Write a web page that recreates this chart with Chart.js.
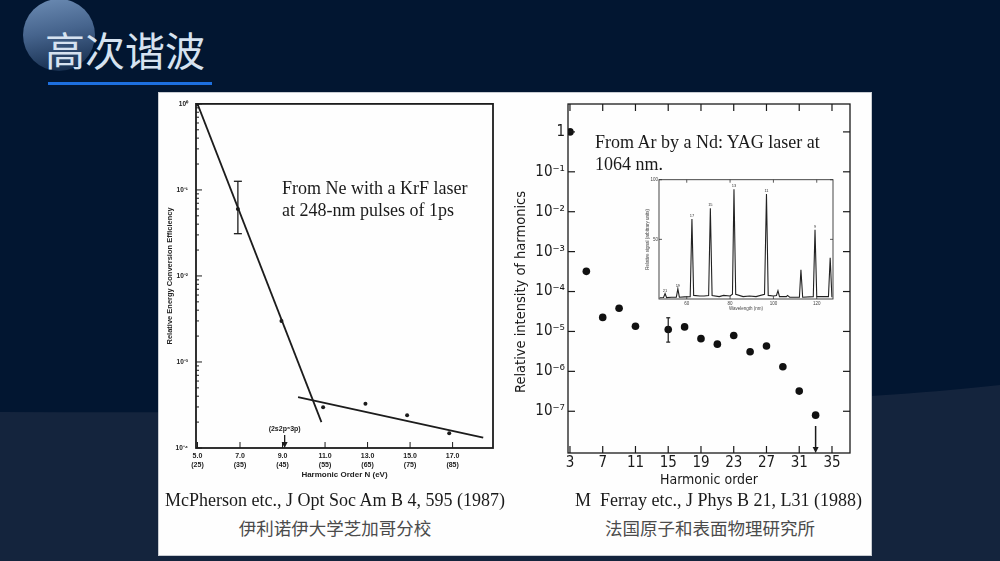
<!DOCTYPE html>
<html>
<head>
<meta charset="utf-8">
<script src="https://cdn.jsdelivr.net/npm/chart.js@4.4.1/dist/chart.umd.min.js"></script>
<style>
  html, body { margin: 0; padding: 0; }
  body { width: 1000px; height: 561px; overflow: hidden; background: #021631; position: relative; }
  #wave { position: absolute; left: 0; top: 0; }
  #badge { position: absolute; left: 23px; top: -1px; width: 72px; height: 72px; border-radius: 50%;
           background: linear-gradient(170deg, #6d8db5 0%, #46648d 45%, #102746 100%); }
  #title { position: absolute; left: 45px; top: 29px; font-family: "Noto Sans CJK SC"; font-size: 40px;
           line-height: 40px; color: #d6e2f0; white-space: nowrap; }
  #underline { position: absolute; left: 48px; top: 82px; width: 164px; height: 3px; background: #1d6fdf; }
  #panel { position: absolute; left: 158px; top: 92px; width: 714px; height: 464px; background: #fefefe;
           box-sizing: border-box; border: 1px solid #c8ccd2; }
  .box { position: absolute; }
  .note { position: absolute; font-family: "Liberation Serif", serif; font-size: 18px; line-height: 22px;
          color: #1a1a1a; white-space: pre; }
  .cn { position: absolute; font-family: "Noto Sans CJK SC", sans-serif; font-size: 17.5px; line-height: 22px;
        color: #4b4b4b; white-space: nowrap; text-align: center; }
  #rightYTitle { position: absolute; left: 420px; top: 284px; width: 200px; height: 18px; line-height: 18px;
                 text-align: center; transform: rotate(-90deg); transform-origin: 100px 9px;
                 font-family: "Liberation Sans Narrow", "DejaVu Sans Condensed", "Liberation Sans", sans-serif;
                 font-size: 14.5px; color: #1a1a1a; white-space: nowrap; }
</style>
</head>
<body>
<svg id="wave" width="1000" height="561"><path d="M0,412 C400,414 800,408 1000,385 L1000,561 L0,561 Z" fill="#14243d"/></svg>
<div id="badge"></div>
<div id="title">高次谐波</div>
<div id="underline"></div>
<div id="panel"></div>

<div class="box" style="left:158px; top:92px; width:345px; height:400px;"><canvas id="leftChart"></canvas></div>
<div class="box" style="left:505px; top:92px; width:357px; height:400px;"><canvas id="rightChart"></canvas></div>
<div class="box" style="left:645px; top:176px; width:192px; height:136px;"><canvas id="insetChart"></canvas></div>

<div id="rightYTitle">Relative intensity of harmonics</div>
<div class="note" style="left:282px; top:177px;">From Ne with a KrF laser
at 248-nm pulses of 1ps</div>
<div class="note" style="left:595px; top:131px;">From Ar by a Nd: YAG laser at
1064 nm.</div>
<div class="note" style="left:165px; top:489px;">McPherson etc., J Opt Soc Am B 4, 595 (1987)</div>
<div class="note" style="left:575px; top:489px;">M  Ferray etc., J Phys B 21, L31 (1988)</div>
<div class="cn" style="left:215px; width:240px; top:517px;">伊利诺伊大学芝加哥分校</div>
<div class="cn" style="left:590px; width:240px; top:517px;">法国原子和表面物理研究所</div>

<script>
// left plot: McPherson, Ne + KrF
const leftOrders = [5, 7, 9, 11, 13, 15, 17];
const leftOrderLabels = [['5.0', '(25)'], ['7.0', '(35)'], ['9.0', '(45)'], ['11.0', '(55)'], ['13.0', '(65)'], ['15.0', '(75)'], ['17.0', '(85)']];
const leftDecades = [1e-4, 1e-3, 1e-2, 1e-1, 1];
const leftDecadeLabels = ['10⁻⁴', '10⁻³', '10⁻²', '10⁻¹', '10⁰'];
const leftPointX = [5.0, 6.9, 8.95, 10.91, 12.9, 14.86, 16.84];
const leftPointY = [1.0, 0.060, 0.0030, 2.98e-4, 3.27e-4, 2.4e-4, 1.48e-4];
const leftErrX = [6.9];
const leftErrLo = [0.031];
const leftErrHi = [0.126];
const steepFitX = [5.0, 10.83];
const steepFitY = [1.0, 2.0e-4];
const flatFitX = [9.73, 18.44];
const flatFitY = [3.9e-4, 1.32e-4];
const leftMarkerX = 9.1;
const leftMarkerLabel = '(2s2p⁶3p)';

// right plot: Ferray, Ar + Nd:YAG
const rightOrders = [3, 7, 11, 15, 19, 23, 27, 31, 35];
const rightDecades = [1e-7, 1e-6, 1e-5, 1e-4, 1e-3, 1e-2, 1e-1, 1];
const rightDecadeLabels = ['10⁻⁷', '10⁻⁶', '10⁻⁵', '10⁻⁴', '10⁻³', '10⁻²', '10⁻¹', '1'];
const harmonicOrder = [3, 5, 7, 9, 11, 15, 17, 19, 21, 23, 25, 27, 29, 31, 33];
const harmonicIntensity = [1, 3.2e-4, 2.25e-5, 3.8e-5, 1.35e-5, 1.12e-5, 1.3e-5, 6.6e-6, 4.8e-6, 7.9e-6, 3.1e-6, 4.3e-6, 1.3e-6, 3.2e-7, 8.0e-8];
const rightErrX = [15];
const rightErrLo = [5.4e-6];
const rightErrHi = [2.2e-5];
const rightMarkerX = 33;

// inset: spectrum trace
const insetWavelength = [47.5, 49.3, 50.0, 50.7, 53, 55.2, 55.9, 56.6, 59, 61.6, 62.4, 63.2, 66, 68, 70.1, 70.9, 71.7, 75, 77, 80, 81.1, 81.8, 82.6, 86, 89, 92, 95.9, 96.8, 97.6, 100, 101.4, 102.1, 102.8, 106, 106.5, 107.5, 112, 112.7, 113.5, 118.4, 119.2, 120.0, 125.4, 126.2, 127.0];
const insetSignal = [1, 1.2, 4.5, 1.2, 1.5, 1.5, 8.5, 1.5, 1.8, 2, 67, 3, 2.5, 2.5, 3, 76, 3, 2, 3, 2.5, 4, 92, 4, 2, 2.5, 2, 4, 88, 3, 2.5, 3, 7, 2, 2, 3, 1.5, 1.5, 24.5, 1.5, 2, 58, 2, 2, 34.5, 1.5];
const peakOrder = ['21', '19', '17', '15', '13', '11', '9'];
const peakWavelength = [50.0, 55.9, 62.4, 70.9, 81.8, 96.8, 119.2];
const peakSignal = [4.5, 8.5, 67, 76, 92, 88, 58];
const insetXTicks = [60, 80, 100, 120];
const insetYTicks = [50, 100];

const sketch = {
  id: 'sketch',
  afterDatasetsDraw(chart, args, o) {
    const ctx = chart.ctx;
    const {left, right, top, bottom} = chart.chartArea;
    const xs = chart.scales.x, ys = chart.scales.y;
    const seg = (x1, y1, x2, y2) => { ctx.beginPath(); ctx.moveTo(x1, y1); ctx.lineTo(x2, y2); ctx.stroke(); };
    ctx.save();
    ctx.strokeStyle = o.color;
    ctx.fillStyle = o.color;
    ctx.lineWidth = o.frameWidth;
    ctx.strokeRect(left, top, right - left, bottom - top);
    ctx.lineWidth = o.tickWidth;
    (o.xTicks || []).forEach(v => {
      const px = xs.getPixelForValue(v);
      seg(px, bottom, px, bottom - o.tickLen);
      if (o.mirror) seg(px, top, px, top + o.tickLen);
    });
    (o.yTicks || []).forEach(v => {
      const py = ys.getPixelForValue(v);
      seg(left, py, left + o.tickLen, py);
      if (o.mirror) seg(right, py, right - o.tickLen, py);
    });
    (o.yMinor || []).forEach(v => {
      const py = ys.getPixelForValue(v);
      seg(left, py, left + o.minorLen, py);
    });
    (o.errorBars || []).forEach(e => {
      const px = xs.getPixelForValue(e.x), lo = ys.getPixelForValue(e.lo), hi = ys.getPixelForValue(e.hi);
      ctx.lineWidth = e.width;
      seg(px, lo, px, hi);
      seg(px - e.cap, lo, px + e.cap, lo);
      seg(px - e.cap, hi, px + e.cap, hi);
    });
    (o.arrows || []).forEach(a => {
      const px = xs.getPixelForValue(a.x);
      ctx.lineWidth = a.width;
      seg(px, bottom - a.len, px, bottom - a.head);
      ctx.beginPath();
      ctx.moveTo(px - a.head / 2, bottom - a.head);
      ctx.lineTo(px + a.head / 2, bottom - a.head);
      ctx.lineTo(px, bottom);
      ctx.closePath();
      ctx.fill();
      if (a.label) {
        ctx.font = a.font;
        ctx.textAlign = 'center';
        ctx.textBaseline = 'middle';
        ctx.fillText(a.label, px, bottom - a.len - 6);
      }
    });
    (o.labels || []).forEach(t => {
      ctx.font = t.font;
      ctx.textAlign = 'center';
      ctx.textBaseline = 'bottom';
      ctx.fillText(t.text, xs.getPixelForValue(t.x), ys.getPixelForValue(t.y) - 1);
    });
    ctx.restore();
  }
};

Chart.defaults.font.family = '"Liberation Sans", Arial, sans-serif';
Chart.defaults.color = '#222';
Chart.defaults.animation = false;

const hiddenGrid = {display: false, drawTicks: false};
const xy = (xArr, yArr) => xArr.map((x, i) => ({x: x, y: yArr[i]}));

const leftMinor = [];
leftDecades.slice(0, -1).forEach(d => { for (let k = 2; k <= 9; k++) leftMinor.push(d * k); });

new Chart(document.getElementById('leftChart'), {
  type: 'scatter',
  data: {
    datasets: [
      {data: xy(steepFitX, steepFitY), showLine: true, borderColor: '#1c1c1c', borderWidth: 1.8, pointRadius: 0},
      {data: xy(flatFitX, flatFitY), showLine: true, borderColor: '#1c1c1c', borderWidth: 1.8, pointRadius: 0},
      {data: xy(leftPointX, leftPointY), backgroundColor: '#1c1c1c', borderWidth: 0, pointRadius: 2}
    ]
  },
  options: {
    responsive: true,
    maintainAspectRatio: false,
    layout: {padding: {left: 0, top: 8, right: 10, bottom: 0}},
    plugins: {
      legend: {display: false},
      tooltip: {enabled: false},
      sketch: {
        color: '#1c1c1c', frameWidth: 1.8, tickWidth: 1, tickLen: 6, minorLen: 3,
        xTicks: leftOrders, yTicks: leftDecades, yMinor: leftMinor,
        errorBars: leftErrX.map((x, i) => ({x: x, lo: leftErrLo[i], hi: leftErrHi[i], cap: 4, width: 1.3})),
        arrows: [{x: leftMarkerX, len: 13, head: 6, width: 1.3, label: leftMarkerLabel, font: 'bold 7px "Liberation Sans"'}]
      }
    },
    scales: {
      x: {
        type: 'linear', min: 4.93, max: 18.9,
        grid: hiddenGrid, border: {display: false},
        afterBuildTicks: s => { s.ticks = leftOrders.map(v => ({value: v})); },
        afterFit: s => { s.height = 44; },
        ticks: {font: {size: 7, weight: 'bold'}, padding: 4, maxRotation: 0, autoSkip: false,
                callback: (v, i) => leftOrderLabels[i]},
        title: {display: true, text: 'Harmonic Order N (eV)', font: {size: 8, weight: 'bold'}, padding: {top: 0, bottom: 12}}
      },
      y: {
        type: 'logarithmic', min: 1e-4, max: 1,
        grid: hiddenGrid, border: {display: false},
        afterBuildTicks: s => { s.ticks = leftDecades.map(v => ({value: v})); },
        afterFit: s => { s.width = 38; },
        ticks: {font: {size: 6.5, weight: 'bold'}, padding: 8, callback: (v, i) => leftDecadeLabels[i]},
        title: {display: true, text: 'Relative Energy Conversion Efficiency', font: {size: 7.5, weight: 'bold'}, padding: {top: 7.5, bottom: 0}}
      }
    }
  },
  plugins: [sketch]
});

const rightFont = '"Liberation Sans Narrow", "DejaVu Sans Condensed", "Liberation Sans", sans-serif';

new Chart(document.getElementById('rightChart'), {
  type: 'scatter',
  data: {
    datasets: [
      {data: xy(harmonicOrder, harmonicIntensity), backgroundColor: '#111', borderWidth: 0, pointRadius: 3.8}
    ]
  },
  options: {
    responsive: true,
    maintainAspectRatio: false,
    layout: {padding: {left: 0, top: 8, right: 12, bottom: 0}},
    plugins: {
      legend: {display: false},
      tooltip: {enabled: false},
      sketch: {
        color: '#1a1a1a', frameWidth: 1.3, tickWidth: 1.2, tickLen: 7, mirror: true,
        xTicks: rightOrders, yTicks: rightDecades,
        errorBars: rightErrX.map((x, i) => ({x: x, lo: rightErrLo[i], hi: rightErrHi[i], cap: 2, width: 1.2})),
        arrows: [{x: rightMarkerX, len: 27, head: 6, width: 1.5}]
      }
    },
    scales: {
      x: {
        type: 'linear', min: 2.76, max: 37.2,
        grid: hiddenGrid, border: {display: false},
        afterBuildTicks: s => { s.ticks = rightOrders.map(v => ({value: v})); },
        afterFit: s => { s.height = 39; },
        ticks: {font: {size: 15, family: rightFont}, color: '#1a1a1a', padding: 1, maxRotation: 0, autoSkip: false},
        title: {display: true, text: 'Harmonic order', font: {size: 14, family: rightFont}, color: '#1a1a1a', padding: {top: 0, bottom: 3.6}}
      },
      y: {
        type: 'logarithmic', min: 9.1e-9, max: 5,
        grid: hiddenGrid, border: {display: false},
        afterBuildTicks: s => { s.ticks = rightDecades.map(v => ({value: v})); },
        afterFit: s => { s.width = 63; },
        ticks: {font: {size: 15, family: rightFont}, color: '#1a1a1a', padding: 3, callback: (v, i) => rightDecadeLabels[i]},
        title: {display: false}
      }
    }
  },
  plugins: [sketch]
});

new Chart(document.getElementById('insetChart'), {
  type: 'scatter',
  data: {
    datasets: [
      {data: xy(insetWavelength, insetSignal), showLine: true, borderColor: '#222', borderWidth: 1.1, pointRadius: 0}
    ]
  },
  options: {
    responsive: true,
    maintainAspectRatio: false,
    layout: {padding: {left: 0, top: 3, right: 4, bottom: 0}},
    plugins: {
      legend: {display: false},
      tooltip: {enabled: false},
      sketch: {
        color: '#333', frameWidth: 0.9, tickWidth: 0.8, tickLen: 3, mirror: true,
        xTicks: insetXTicks, yTicks: insetYTicks,
        labels: peakOrder.map((t, i) => ({text: t, x: peakWavelength[i], y: peakSignal[i], font: '4px "Liberation Sans"'}))
      }
    },
    scales: {
      x: {
        type: 'linear', min: 47.2, max: 127.5,
        grid: hiddenGrid, border: {display: false},
        afterBuildTicks: s => { s.ticks = insetXTicks.map(v => ({value: v})); },
        afterFit: s => { s.height = 13; },
        ticks: {font: {size: 4.5}, color: '#444', padding: 2, maxRotation: 0, autoSkip: false},
        title: {display: true, text: 'Wavelength (nm)', font: {size: 4.5}, color: '#444', padding: {top: 0, bottom: 0.5}}
      },
      y: {
        type: 'linear', min: 0, max: 100,
        grid: hiddenGrid, border: {display: false},
        afterBuildTicks: s => { s.ticks = insetYTicks.map(v => ({value: v})); },
        afterFit: s => { s.width = 14; },
        ticks: {font: {size: 4.5}, color: '#444', padding: 1},
        title: {display: true, text: 'Relative signal (arbitrary units)', font: {size: 4.5}, color: '#444', padding: {top: 0, bottom: 0}}
      }
    }
  },
  plugins: [sketch]
});
</script>
</body>
</html>
